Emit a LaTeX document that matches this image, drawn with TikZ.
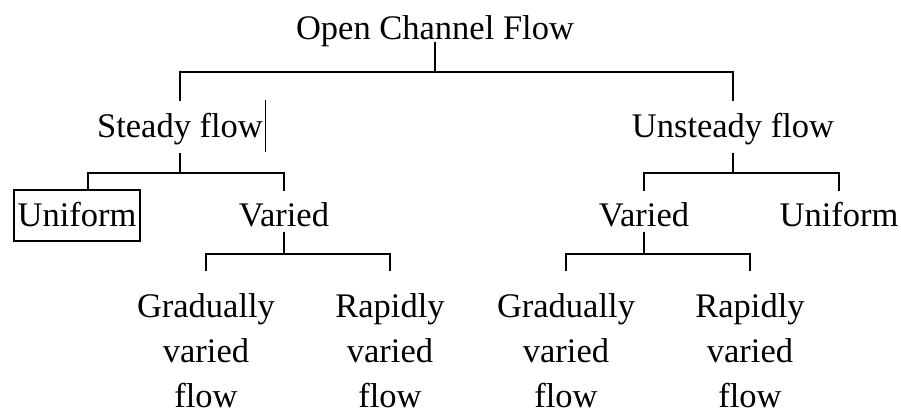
\documentclass[tikz,border=0pt]{standalone}
\usepackage{fontspec}
\setmainfont{Liberation Serif}
\usepackage{tikz}

\begin{document}
\begin{tikzpicture}[x=1pt, y=-1pt, line width=2pt,
  every node/.style={font=\fontsize{34.5}{45}\selectfont, inner sep=0pt, anchor=base, align=center}]
  \useasboundingbox (0,0) rectangle (901,411);

  \node (ocf) at (435,40) {Open Channel Flow};

  \node (steady) at (180,138) {Steady flow};
  \node (unsteady) at (733,138) {Unsteady flow};

  \node[draw, minimum width=126pt, minimum height=51pt] (uniL) at (77,227) {Uniform};
  \node (variedL) at (284,227) {Varied};
  \node (variedR) at (644,227) {Varied};
  \node (uniR) at (839,227) {Uniform};

  \node[anchor=north] (gradL) at (206,293) {Gradually\\varied\\flow};
  \node[anchor=north] (rapL) at (390,293) {Rapidly\\varied\\flow};
  \node[anchor=north] (gradR) at (566,293) {Gradually\\varied\\flow};
  \node[anchor=north] (rapR) at (750,293) {Rapidly\\varied\\flow};

  \draw ([yshift=-2pt]ocf.base) -- ++(0,30) -| ([yshift=12pt]steady.north);
  \draw ([yshift=-2pt]ocf.base) ++(0,30) -| ([yshift=12pt]unsteady.north);

  \draw ([yshift=-7pt]steady.south) -- ++(0,20) -| ([xshift=11pt]uniL.north);
  \draw ([yshift=-7pt]steady.south) ++(0,20) -| ([yshift=11pt]variedL.north);

  \draw ([yshift=-7pt]unsteady.south) -- ++(0,20) -| ([yshift=11pt]variedR.north);
  \draw ([yshift=-7pt]unsteady.south) ++(0,20) -| ([yshift=11pt]uniR.north);

  \draw ([yshift=-3pt]variedL.south) -- ++(0,22) -| ([yshift=22pt]gradL.north);
  \draw ([yshift=-3pt]variedL.south) ++(0,22) -| ([yshift=22pt]rapL.north);

  \draw ([yshift=-3pt]variedR.south) -- ++(0,22) -| ([yshift=22pt]gradR.north);
  \draw ([yshift=-3pt]variedR.south) ++(0,22) -| ([yshift=22pt]rapR.north);

  % text cursor left after "Steady flow"
  \draw[line width=0.8pt] ([xshift=2pt,yshift=38pt]steady.base east) -- ([xshift=2pt,yshift=-14pt]steady.base east);
\end{tikzpicture}
\end{document}
